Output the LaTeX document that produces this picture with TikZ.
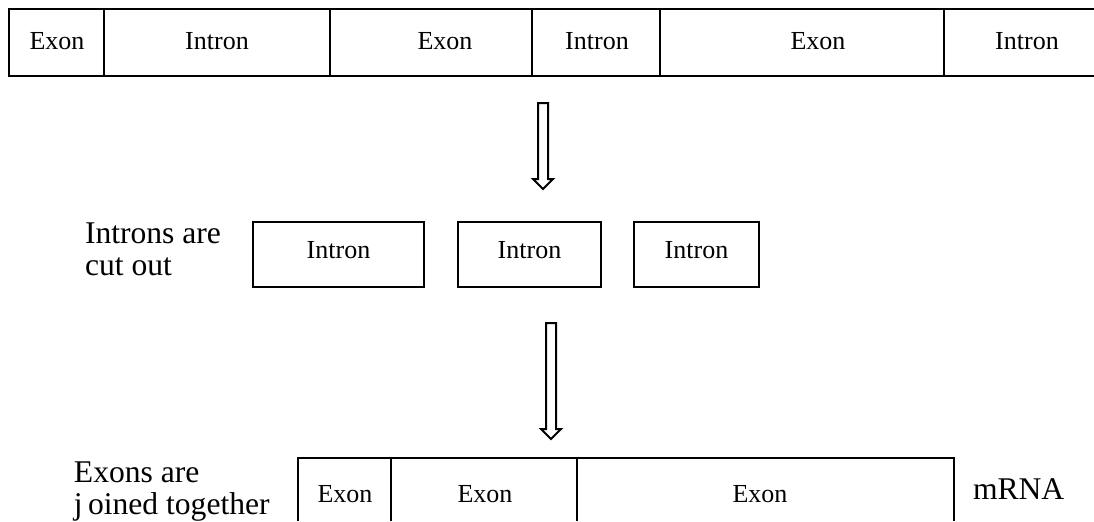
\documentclass[tikz,border=0pt]{standalone}
\usepackage{fontspec}
\setmainfont{Liberation Serif}
\usetikzlibrary{calc}

\newcommand{\hollowarrow}[2]{%
  \draw ($(#1)+(-5,0)$) -- ($(#2)+(-5,-10)$) -- ++(-5,0) -- (#2) -- ++(10,-10) -- ++(-5,0) -- ($(#1)+(5,0)$) -- cycle;}

\begin{document}
\begin{tikzpicture}[x=0.5pt, y=-0.5pt, line width=1pt,
    celltext/.style={font=\fontsize{13}{15}\selectfont, anchor=base, inner sep=0pt},
    sidetext/.style={font=\fontsize{15.8}{16}\selectfont, align=left, anchor=north west, inner sep=0pt}]
        \useasboundingbox (0,0) rectangle (1094,521);
        \draw (1094,9) -- (9,9) -- (9,76) -- (1094,76);
        \foreach \x in {104,330,532,660,944} \draw (\x,9) -- (\x,76);
        \foreach \x/\t [count=\i] in {57/Exon,217/Intron,445/Exon,597/Intron,818/Exon,1027/Intron}
            \node[celltext] (top\i) at (\x,49) {\t};
        \coordinate (arrAtop) at (543,103);
        \coordinate (arrAtip) at (543,189);
        \hollowarrow{arrAtop}{arrAtip}
        \node[sidetext] (cutlabel) at (84,222) {Introns are\\cut out};
        \draw (253,222) rectangle (424,287);
        \draw (458,222) rectangle (601,287);
        \draw (634,222) rectangle (759,287);
        \foreach \x [count=\i] in {338.5,529.5,696.5} \node[celltext] (cut\i) at (\x,258) {Intron};
        \coordinate (arrBtop) at (551,323);
        \coordinate (arrBtip) at (551,439);
        \hollowarrow{arrBtop}{arrBtip}
        \node[sidetext] (joinlabel) at (73,461) {Exons are\\j\,oined together};
        \draw (298,521) -- (298,458) -- (954,458) -- (954,521);
        \foreach \x in {391,577} \draw (\x,458) -- (\x,521);
        \foreach \x [count=\i] in {345,485,760} \node[celltext] (join\i) at (\x,502) {Exon};
        \node[sidetext, anchor=base west] (mrna) at (972,499) {mRNA};
    \end{tikzpicture}
\end{document}
